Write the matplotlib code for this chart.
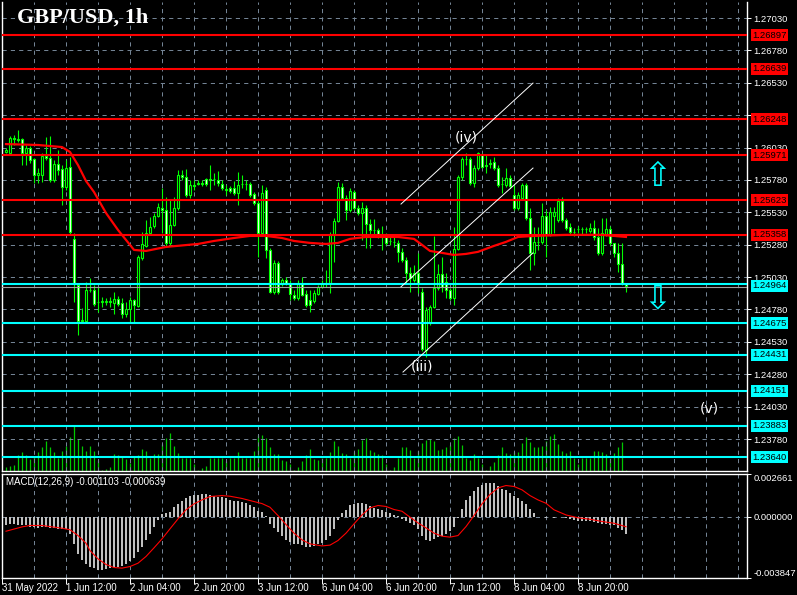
import matplotlib
matplotlib.use("Agg")
import matplotlib.pyplot as plt
import numpy as np

plt.rcParams['lines.scale_dashes'] = False
SANS = 'Liberation Sans'

# ---------------- data (hourly bars, 31 May 2022 21:00 ... 9 Jun 2022) ----------------
opens = [
    1.25996, 1.25988, 1.26104, 1.26096, 1.26096, 1.25988, 1.26026, 1.25942, 1.25818, 1.25818,
    1.25965, 1.25949, 1.25779, 1.25903, 1.25864, 1.25725, 1.25880, 1.25325, 1.24971, 1.24693,
    1.24693, 1.24932, 1.24932, 1.24840, 1.24840, 1.24840, 1.24847, 1.24832, 1.24863, 1.24832,
    1.24747, 1.24786, 1.24855, 1.24809, 1.25178, 1.25271, 1.25371, 1.25425, 1.25502, 1.25564,
    1.25548, 1.25294, 1.25433, 1.25564, 1.25818, 1.25803, 1.25664, 1.25741, 1.25756, 1.25756,
    1.25787, 1.25787, 1.25787, 1.25779, 1.25749, 1.25710, 1.25718, 1.25718, 1.25679, 1.25749,
    1.25749, 1.25749, 1.25671, 1.25602, 1.25371, 1.25702, 1.25240, 1.24917, 1.25140, 1.24978,
    1.25009, 1.24986, 1.24894, 1.24871, 1.24986, 1.24901, 1.24855, 1.24847, 1.24901, 1.24955,
    1.24978, 1.24986, 1.25356, 1.25463, 1.25725, 1.25641, 1.25548, 1.25687, 1.25564, 1.25525,
    1.25564, 1.25440, 1.25394, 1.25394, 1.25348, 1.25348, 1.25309, 1.25302, 1.25294, 1.25225,
    1.25163, 1.25063, 1.25009, 1.25063, 1.24917, 1.24469, 1.24678, 1.24801, 1.24948, 1.25055,
    1.24994, 1.24932, 1.24871, 1.25248, 1.25803, 1.25942, 1.25942, 1.25756, 1.25872, 1.25972,
    1.25895, 1.25911, 1.25918, 1.25872, 1.25749, 1.25741, 1.25795, 1.25664, 1.25564, 1.25641,
    1.25741, 1.25487, 1.25217, 1.25302, 1.25302, 1.25502, 1.25363, 1.25502, 1.25471, 1.25617,
    1.25471, 1.25417, 1.25379, 1.25402, 1.25402, 1.25402, 1.25386, 1.25410, 1.25340, 1.25217,
    1.25363, 1.25402, 1.25294, 1.25217, 1.25132, 1.24978,
]
highs = [
    1.26026, 1.26119, 1.26127, 1.26165, 1.26104, 1.26050, 1.26042, 1.25949, 1.25872, 1.25988,
    1.26111, 1.26119, 1.25934, 1.26011, 1.25895, 1.25934, 1.25957, 1.25371, 1.24986, 1.24794,
    1.24994, 1.25024, 1.24971, 1.24955, 1.24878, 1.24871, 1.24878, 1.24917, 1.24886, 1.24871,
    1.24840, 1.24878, 1.24863, 1.25201, 1.25379, 1.25471, 1.25494, 1.25525, 1.25602, 1.25718,
    1.25648, 1.25625, 1.25648, 1.25857, 1.25857, 1.25864, 1.25779, 1.25779, 1.25779, 1.25779,
    1.25795, 1.25895, 1.25834, 1.25849, 1.25779, 1.25741, 1.25733, 1.25772, 1.25841, 1.25818,
    1.25779, 1.25764, 1.25687, 1.25625, 1.25741, 1.25725, 1.25255, 1.25163, 1.25155, 1.25024,
    1.25032, 1.25009, 1.24932, 1.25009, 1.25032, 1.24932, 1.24932, 1.24932, 1.24971, 1.25009,
    1.25086, 1.25379, 1.25487, 1.25764, 1.25756, 1.25664, 1.25718, 1.25702, 1.25587, 1.25610,
    1.25587, 1.25479, 1.25479, 1.25410, 1.25425, 1.25371, 1.25340, 1.25348, 1.25317, 1.25255,
    1.25186, 1.25109, 1.25124, 1.25217, 1.24948, 1.24801, 1.24817, 1.25348, 1.25132, 1.25186,
    1.25063, 1.24948, 1.25417, 1.25818, 1.25957, 1.25988, 1.25957, 1.25895, 1.25996, 1.25988,
    1.25972, 1.25942, 1.25957, 1.25895, 1.25803, 1.25872, 1.25818, 1.25741, 1.25687, 1.25756,
    1.25756, 1.25564, 1.25417, 1.25417, 1.25602, 1.25548, 1.25571, 1.25571, 1.25641, 1.25648,
    1.25487, 1.25448, 1.25410, 1.25425, 1.25417, 1.25417, 1.25448, 1.25471, 1.25410, 1.25487,
    1.25487, 1.25425, 1.25294, 1.25294, 1.25294, 1.24986,
]
lows = [
    1.25988, 1.25980, 1.26050, 1.26073, 1.25895, 1.25895, 1.25911, 1.25756, 1.25756, 1.25764,
    1.25934, 1.25764, 1.25764, 1.25818, 1.25587, 1.25702, 1.25356, 1.24840, 1.24585, 1.24678,
    1.24686, 1.24917, 1.24809, 1.24763, 1.24801, 1.24817, 1.24801, 1.24747, 1.24809, 1.24717,
    1.24724, 1.24686, 1.24686, 1.24801, 1.25163, 1.25263, 1.25356, 1.25410, 1.25494, 1.25371,
    1.25263, 1.25271, 1.25425, 1.25548, 1.25779, 1.25648, 1.25641, 1.25702, 1.25741, 1.25733,
    1.25733, 1.25702, 1.25741, 1.25733, 1.25702, 1.25664, 1.25679, 1.25664, 1.25587, 1.25718,
    1.25702, 1.25648, 1.25587, 1.25186, 1.25356, 1.25178, 1.24909, 1.24901, 1.24901, 1.24963,
    1.24971, 1.24855, 1.24855, 1.24855, 1.24886, 1.24801, 1.24763, 1.24832, 1.24894, 1.24948,
    1.24955, 1.24909, 1.25148, 1.25456, 1.25625, 1.25471, 1.25533, 1.25548, 1.25510, 1.25317,
    1.25255, 1.25255, 1.25340, 1.25332, 1.25240, 1.25279, 1.25279, 1.25263, 1.25148, 1.25148,
    1.24986, 1.24917, 1.24994, 1.24909, 1.24461, 1.24415, 1.24663, 1.24794, 1.24932, 1.24917,
    1.24871, 1.24855, 1.24817, 1.25240, 1.25779, 1.25895, 1.25741, 1.25725, 1.25857, 1.25872,
    1.25834, 1.25872, 1.25857, 1.25725, 1.25679, 1.25725, 1.25718, 1.25548, 1.25548, 1.25625,
    1.25471, 1.25086, 1.25124, 1.25240, 1.25286, 1.25186, 1.25348, 1.25371, 1.25456, 1.25456,
    1.25394, 1.25363, 1.25348, 1.25371, 1.25363, 1.25371, 1.25371, 1.25317, 1.25201, 1.25201,
    1.25348, 1.25279, 1.25186, 1.25071, 1.24971, 1.24917,
]
closes = [
    1.26011, 1.26104, 1.26096, 1.26092, 1.25988, 1.26026, 1.25934, 1.25818, 1.25834, 1.25965,
    1.25949, 1.25779, 1.25903, 1.25857, 1.25725, 1.25872, 1.25379, 1.24986, 1.24693, 1.24701,
    1.24932, 1.24928, 1.24824, 1.24836, 1.24843, 1.24847, 1.24840, 1.24863, 1.24824, 1.24747,
    1.24786, 1.24855, 1.24817, 1.25186, 1.25286, 1.25371, 1.25417, 1.25502, 1.25571, 1.25548,
    1.25294, 1.25433, 1.25564, 1.25818, 1.25803, 1.25664, 1.25741, 1.25733, 1.25752, 1.25752,
    1.25749, 1.25783, 1.25790, 1.25756, 1.25718, 1.25706, 1.25694, 1.25679, 1.25741, 1.25745,
    1.25752, 1.25664, 1.25602, 1.25371, 1.25679, 1.25240, 1.24917, 1.25140, 1.24917, 1.25009,
    1.24986, 1.24901, 1.24871, 1.24986, 1.24894, 1.24817, 1.24817, 1.24909, 1.24955, 1.24986,
    1.24982, 1.25356, 1.25463, 1.25725, 1.25641, 1.25548, 1.25694, 1.25564, 1.25525, 1.25564,
    1.25440, 1.25394, 1.25390, 1.25356, 1.25344, 1.25294, 1.25305, 1.25298, 1.25225, 1.25163,
    1.25063, 1.25024, 1.25063, 1.24986, 1.24475, 1.24778, 1.24801, 1.24948, 1.25055, 1.24955,
    1.24932, 1.24871, 1.25248, 1.25803, 1.25942, 1.25938, 1.25756, 1.25872, 1.25988, 1.25880,
    1.25891, 1.25907, 1.25872, 1.25741, 1.25745, 1.25795, 1.25733, 1.25564, 1.25664, 1.25741,
    1.25487, 1.25217, 1.25302, 1.25298, 1.25502, 1.25363, 1.25533, 1.25533, 1.25617, 1.25471,
    1.25410, 1.25379, 1.25375, 1.25398, 1.25405, 1.25398, 1.25410, 1.25340, 1.25217, 1.25371,
    1.25402, 1.25294, 1.25217, 1.25132, 1.24986, 1.24964,
]
volumes = [
    400, 500, 570, 1570, 1900, 1570, 1170, 1470, 1900, 2400,
    2970, 2400, 1900, 1330, 2000, 2470, 3400, 4500, 3200, 2470,
    2000, 2470, 2000, 1130, 100, 170, 400, 1670, 1570, 1400,
    1170, 800, 1400, 1570, 2230, 2000, 1330, 1670, 1670, 2670,
    3300, 3800, 2470, 1800, 1330, 1330, 1330, 670, 100, 300,
    500, 1330, 1330, 1330, 1330, 1000, 1330, 1330, 1900, 1330,
    1330, 1330, 2000, 3570, 3570, 3300, 2400, 1670, 1670, 1070,
    1000, 670, 100, 400, 1000, 1570, 2230, 1170, 1070, 1330,
    1330, 1900, 3000, 2470, 1800, 1670, 1330, 1900, 2170, 3130,
    3300, 2130, 1900, 1670, 1570, 670, 100, 400, 1330, 2400,
    2400, 2070, 1330, 2000, 2800, 3070, 3230, 3000, 2070, 2170,
    2370, 2570, 3330, 3470, 2570, 1330, 1070, 1670, 1330, 670,
    100, 470, 900, 1570, 2400, 1800, 1670, 1900, 1900, 2800,
    3400, 2900, 2400, 2400, 2500, 3000, 3470, 3670, 2670, 2000,
    1800, 2000, 1330, 670, 1330, 1330, 1330, 2000, 2000, 1900,
    1670, 1330, 1800, 2400, 2900, 130,
]
# moving average (red line) read at selected bars
ma_idx = [0, 8, 14, 16, 18, 20, 22, 25, 28, 30, 32, 35, 40, 48, 52, 57, 61, 65, 69, 72,
          76, 80, 83, 86, 90, 98, 102, 104, 106, 109, 112, 115, 118, 122, 125, 128, 132,
          140, 149, 155]
ma_val = [1.26057, 1.26050, 1.26034, 1.25996, 1.25895, 1.25772, 1.25687, 1.25525, 1.25394,
          1.25317, 1.25240, 1.25232, 1.25263, 1.25286, 1.25309, 1.25332, 1.25348, 1.25348,
          1.25332, 1.25309, 1.25294, 1.25286, 1.25294, 1.25325, 1.25340, 1.25340, 1.25325,
          1.25279, 1.25232, 1.25217, 1.25201, 1.25209, 1.25225, 1.25271, 1.25302, 1.25340,
          1.25348, 1.25356, 1.25356, 1.25340]
# MACD(12,26,9) histogram
macd_hist = [
    -0.00050, -0.00046, -0.00046, -0.00050, -0.00056, -0.00056, -0.00063, -0.00067, -0.00071, -0.00067,
    -0.00067, -0.00071, -0.00071, -0.00077, -0.00077, -0.00077, -0.00108, -0.00171, -0.00234, -0.00275,
    -0.00300, -0.00313, -0.00321, -0.00334, -0.00334, -0.00327, -0.00321, -0.00317, -0.00313, -0.00307,
    -0.00296, -0.00280, -0.00259, -0.00223, -0.00188, -0.00150, -0.00108, -0.00063, -0.00021, 0.00013,
    0.00021, 0.00027, 0.00058, 0.00079, 0.00100, 0.00117, 0.00127, 0.00134, 0.00136, 0.00138,
    0.00138, 0.00136, 0.00129, 0.00125, 0.00121, 0.00113, 0.00106, 0.00100, 0.00096, 0.00090,
    0.00083, 0.00071, 0.00058, 0.00033, 0.00029, 0.00002, -0.00046, -0.00071, -0.00098, -0.00125,
    -0.00146, -0.00161, -0.00171, -0.00175, -0.00181, -0.00188, -0.00192, -0.00184, -0.00175, -0.00167,
    -0.00150, -0.00121, -0.00077, -0.00021, 0.00021, 0.00042, 0.00069, 0.00079, 0.00083, 0.00086,
    0.00079, 0.00063, 0.00054, 0.00048, 0.00042, 0.00027, 0.00021, 0.00010, 0.00002, -0.00015,
    -0.00029, -0.00042, -0.00056, -0.00077, -0.00125, -0.00150, -0.00154, -0.00140, -0.00129, -0.00119,
    -0.00108, -0.00092, -0.00063, -0.00008, 0.00048, 0.00104, 0.00131, 0.00159, 0.00184, 0.00200,
    0.00209, 0.00211, 0.00209, 0.00188, 0.00173, 0.00163, 0.00146, 0.00131, 0.00117, 0.00100,
    0.00079, 0.00048, 0.00021, 0.00000, -0.00004, -0.00008, -0.00004, -0.00010, 0.00000, -0.00004,
    -0.00008, -0.00015, -0.00021, -0.00029, -0.00029, -0.00025, -0.00029, -0.00035, -0.00042, -0.00046,
    -0.00046, -0.00050, -0.00056, -0.00071, -0.00083, -0.001103,
]
# MACD signal line read at selected bars
sig_idx = [0, 4, 6, 9, 11, 14, 16, 18, 20, 21, 23, 25, 27, 29, 31, 33, 35, 37, 39, 41, 43, 45,
           47, 49, 51, 54, 56, 59, 61, 64, 66, 68, 70, 72, 74, 76, 79, 81, 83, 85, 87, 89, 91,
           93, 95, 97, 99, 101, 103, 105, 107, 109, 111, 113, 115, 117, 119, 121, 123, 125,
           127, 129, 131, 133, 135, 137, 140, 143, 146, 149, 152, 155]
sig_val = [-0.00092, -0.00065, -0.00056, -0.00056, -0.00063, -0.00073, -0.00083, -0.00119,
           -0.00167, -0.00213, -0.00265, -0.00300, -0.00319, -0.00323, -0.00313, -0.00292,
           -0.00250, -0.00196, -0.00140, -0.00077, -0.00015, 0.00042, 0.00079, 0.00104,
           0.00125, 0.00131, 0.00127, 0.00113, 0.00100, 0.00081, 0.00058, 0.00006, -0.00050,
           -0.00104, -0.00146, -0.00171, -0.00184, -0.00179, -0.00150, -0.00104, -0.00046,
           0.00010, 0.00054, 0.00069, 0.00063, 0.00044, 0.00033, -0.00004, -0.00040, -0.00071,
           -0.00104, -0.00123, -0.00129, -0.00119, -0.00063, 0.00006, 0.00079, 0.00138,
           0.00179, 0.00194, 0.00188, 0.00167, 0.00131, 0.00104, 0.00083, 0.00042, 0.00010,
           -0.00008, -0.00017, -0.00031, -0.00042, -0.000639]
macd_last, signal_last = -0.001103, -0.000639

resistance_levels = [1.26897, 1.26639, 1.26248, 1.25971, 1.25623, 1.25358]
support_levels = [1.24964, 1.24675, 1.24431, 1.24151, 1.23883, 1.23640]
bid_price = 1.24964
price_ticks = [1.27030, 1.26780, 1.26530, 1.26280, 1.26030, 1.25780, 1.25530,
               1.25280, 1.25030, 1.24780, 1.24530, 1.24280, 1.24030, 1.23780]
macd_ticks = [-0.003847, 0.0, 0.002661]
time_tick_idx = [-1, 15, 31, 47, 63, 79, 95, 111, 127, 143]
time_tick_labels = ['31 May 2022', '1 Jun 12:00', '2 Jun 04:00', '2 Jun 20:00', '3 Jun 12:00',
                    '6 Jun 04:00', '6 Jun 20:00', '7 Jun 12:00', '8 Jun 04:00', '8 Jun 20:00']
# channel trendlines: (start bar, start price, end bar, end price)
channel_lines = [
    (98.75, 1.25594, 131.75, 1.26528),
    (98.75, 1.24955, 131.75, 1.25872),
    (99.25, 1.24297, 131.75, 1.25217),
]
wave_labels = [('(iv)', 115.0, 1.26108), ('(iii)', 104.0, 1.24343), ('(v)', 175.75, 1.24019)]
arrow_marks = [('\u21e7', 162.75, 1.25807), ('\u21e9', 162.75, 1.24863)]

# ---------------- layout ----------------
W, H = 797, 595
fig = plt.figure(figsize=(W / 100, H / 100), dpi=100, facecolor='black')


def rect(x0, y0, x1, y1):
    return [x0 / W, 1 - y1 / H, (x1 - x0) / W, (y1 - y0) / H]


XLIM = (-1, 185.25)
LIME = '#00FF00'
GRID = '#778899'
DASH = (0, (3, 3))
FS = 6.8
n = len(closes)
x = np.arange(n)
grid_x = np.arange(7, 186, 8)

# volume axis (behind)
axv = fig.add_axes(rect(2, 2, 747, 471))
axv.set_facecolor('black')
axv.vlines(x, 0, volumes, color='#00C800', lw=0.9)
axv.set_xlim(*XLIM)
axv.set_ylim(0, 46900)
axv.set_xticks([])
axv.set_yticks([])
for s in axv.spines.values():
    s.set_visible(False)

# price axis
ax = fig.add_axes(rect(2, 2, 747, 471))
ax.patch.set_visible(False)
ax.set_xlim(*XLIM)
ax.set_ylim(1.23533, 1.27154)
ax.vlines(grid_x, 1.23533, 1.27154, colors=GRID, lw=0.7, linestyles=DASH, zorder=1)
for t in price_ticks:
    ax.axhline(t, color=GRID, lw=0.7, ls=DASH, zorder=1)

o = np.array(opens); c = np.array(closes)
ax.vlines(x, lows, highs, color=LIME, lw=0.8, zorder=3)
body_colors = np.where(c >= o, 'black', 'white')
ax.bar(x, np.abs(c - o), bottom=np.minimum(o, c), width=0.72, color=body_colors,
       edgecolor=LIME, linewidth=0.8, zorder=4)

ax.plot(ma_idx, ma_val, color='#FF0000', lw=1.6, zorder=5)

for lv in resistance_levels:
    ax.axhline(lv, color='#FF0000', lw=1.5, zorder=6)
for lv in support_levels:
    ax.axhline(lv + 0.00014 if lv == bid_price else lv, color='#00FFFF', lw=1.5, zorder=6)
ax.axhline(bid_price - 0.00008, color='#A0A0A0', lw=0.8, zorder=6)

for (x0, y0, x1, y1) in channel_lines:
    ax.plot([x0, x1], [y0, y1], color='white', lw=0.7, zorder=6)

for txt, xi, yi in wave_labels:
    ax.text(xi, yi, txt, color='white', fontsize=10, family='DejaVu Sans',
            ha='center', va='center', zorder=7)
for sym, xi, yi in arrow_marks:
    ax.text(xi, yi, sym, color='#00FFFF', fontsize=24, family='DejaVu Sans',
            ha='center', va='center', zorder=7)

ax.yaxis.tick_right()
ax.set_yticks(price_ticks)
ax.set_yticklabels([f'{t:.5f}' for t in price_ticks], family=SANS)
ax.tick_params(axis='y', colors='white', labelsize=FS, length=3, width=0.7, pad=1.5)
ax.set_xticks([])
for side in ('left', 'right', 'bottom'):
    ax.spines[side].set_color('white')
    ax.spines[side].set_linewidth(1)
ax.spines['top'].set_visible(False)

for lv in resistance_levels:
    ax.annotate(f'{lv:.5f}', xy=(1, lv), xycoords=('axes fraction', 'data'),
                xytext=(5, 0), textcoords='offset pixels', ha='left', va='center',
                fontsize=FS, family=SANS, color='black', annotation_clip=False, zorder=8,
                bbox=dict(boxstyle='square,pad=0.15', fc='#FF0000', ec='none'))
for lv in support_levels:
    ax.annotate(f'{lv:.5f}', xy=(1, lv), xycoords=('axes fraction', 'data'),
                xytext=(5, 0), textcoords='offset pixels', ha='left', va='center',
                fontsize=FS, family=SANS, color='black', annotation_clip=False, zorder=8,
                bbox=dict(boxstyle='square,pad=0.15', fc='#00FFFF', ec='none'))

fig.text(17 / W, 1 - 18 / H, 'GBP/USD, 1h', color='white', fontsize=16,
         family='Liberation Serif', weight='bold', ha='left', va='center')

# MACD axis
ax2 = fig.add_axes(rect(2, 474, 747, 578))
ax2.set_facecolor('black')
ax2.set_xlim(*XLIM)
ax2.set_ylim(macd_ticks[0], macd_ticks[-1])
ax2.vlines(grid_x, macd_ticks[0], macd_ticks[-1], colors=GRID, lw=0.7, linestyles=DASH, zorder=1)
ax2.axhline(0, color=GRID, lw=0.7, ls=DASH, zorder=1)
ax2.bar(x, macd_hist, width=0.5, color='#C0C0C0', zorder=3)
ax2.plot(sig_idx, sig_val, color='#FF0000', lw=0.8, zorder=4)
ax2.text(4 / 745, (578 - 482) / 104, f'MACD(12,26,9) {macd_last:.6f} {signal_last:.6f}',
         transform=ax2.transAxes, color='white', fontsize=7.0, family=SANS,
         ha='left', va='center')
ax2.yaxis.tick_right()
ax2.set_yticks(macd_ticks)
ax2.set_yticklabels([f'{t:.6f}' for t in macd_ticks], family=SANS)
ax2.tick_params(axis='y', colors='white', labelsize=FS, length=3, width=0.7, pad=1.5)
ylbls = ax2.get_yticklabels()
ylbls[0].set_va('bottom')
ylbls[-1].set_va('top')
ax2.set_xticks(time_tick_idx)
ax2.set_xticklabels(time_tick_labels, family=SANS, ha='left')
ax2.tick_params(axis='x', colors='white', labelsize=7.0, length=4.5, width=0.7, pad=-1)
for s in ax2.spines.values():
    s.set_color('white')
    s.set_linewidth(1)

fig.savefig('out.png', dpi=100, facecolor='black')
